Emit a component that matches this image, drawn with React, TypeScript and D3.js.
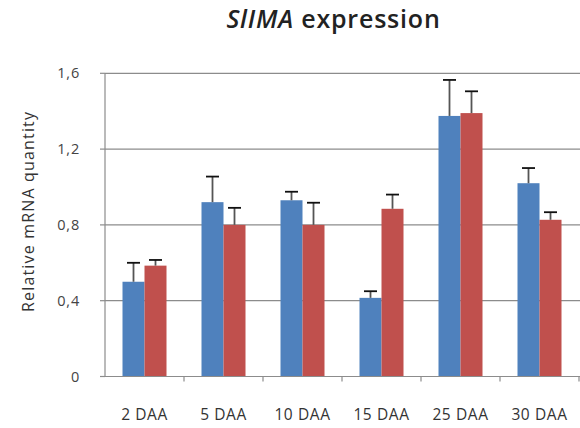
import React from "react";
import * as d3 from "d3";

const categories = ["2 DAA", "5 DAA", "10 DAA", "15 DAA", "25 DAA", "30 DAA"];
const blueValues = [0.5, 0.92, 0.93, 0.415, 1.375, 1.02];
const blueErrors = [0.1, 0.135, 0.045, 0.035, 0.19, 0.08];
const redValues = [0.585, 0.8, 0.8, 0.885, 1.39, 0.827];
const redErrors = [0.03, 0.09, 0.117, 0.075, 0.115, 0.04];
const yTicks = [0, 0.4, 0.8, 1.2, 1.6];
const yTickLabels = ["0", "0,4", "0,8", "1,2", "1,6"];

const W = 580, H = 428;
const left = 105, right = 579, top = 73.3, bottom = 376.5;
const FONT = "'Open Sans', sans-serif";

export default function App() {
  const x = d3.scaleBand<string>().domain(categories).range([left, right]).padding(0);
  const y = d3.scaleLinear().domain([0, 1.6]).range([bottom, top]);
  const bw = 22;
  const series = [
    { vals: blueValues, errs: blueErrors, color: "#4F81BD", off: -bw },
    { vals: redValues, errs: redErrors, color: "#C0504D", off: 0 },
  ];
  return (
    <svg width={W} height={H} style={{ position: "absolute", left: 0, top: 0, background: "#fff" }}>
      <rect width={W} height={H} fill="#fff" />
      <text x={333.5} y={27.5} textAnchor="middle" fontFamily={FONT} fontSize={25} fontWeight="600" fill="#222" letterSpacing={0.8}>
        <tspan fontStyle="italic">SlIMA</tspan> expression
      </text>
      {yTicks.map((t, i) => (
        <g key={t}>
          {t > 0 && <line x1={left} x2={right + 1} y1={y(t)} y2={y(t)} stroke="#8c8c8c" strokeWidth={1.2} />}
          <line x1={left - 5} x2={left} y1={y(t)} y2={y(t)} stroke="#8c8c8c" strokeWidth={1.2} />
          <text x={80} y={y(t) + 5} textAnchor="end" fontFamily={FONT} fontSize={14.5} fill="#444" letterSpacing={0.8}>
            {yTickLabels[i]}
          </text>
        </g>
      ))}
      <text transform={`translate(34,${212}) rotate(-90)`} textAnchor="middle" fontFamily={FONT} fontSize={16} fill="#333" textLength={200} lengthAdjust="spacing">
        Relative mRNA quantity
      </text>
      {series.map((s, si) =>
        categories.map((c, i) => {
          const cx = (x(c) as number) + x.bandwidth() / 2 + s.off;
          return (
            <rect key={`b${si}${i}`} x={cx} y={y(s.vals[i])} width={bw} height={bottom - y(s.vals[i])} fill={s.color} />
          );
        })
      )}
      {series.map((s, si) =>
        categories.map((c, i) => {
          const cx = (x(c) as number) + x.bandwidth() / 2 + s.off + bw / 2;
          const yt = y(s.vals[i] + s.errs[i]);
          return (
            <g key={`e${si}${i}`}>
              <line x1={cx} x2={cx} y1={y(s.vals[i])} y2={yt} stroke="#555" strokeWidth={1.8} />
              <line x1={cx - 6.5} x2={cx + 6.5} y1={yt} y2={yt} stroke="#111" strokeWidth={1.8} />
            </g>
          );
        })
      )}
      <line x1={left} x2={left} y1={top} y2={bottom} stroke="#8c8c8c" strokeWidth={1.2} />
      <line x1={left} x2={right + 1} y1={bottom} y2={bottom} stroke="#8c8c8c" strokeWidth={1.2} />
      {categories.map((c) => (
        <line key={`t${c}`} x1={(x(c) as number) + x.bandwidth()} x2={(x(c) as number) + x.bandwidth()} y1={bottom} y2={bottom + 5} stroke="#8c8c8c" strokeWidth={1.2} />
      ))}
      {categories.map((c) => (
        <text key={`l${c}`} x={(x(c) as number) + x.bandwidth() / 2} y={420} textAnchor="middle" fontFamily={FONT} fontSize={15.5} fill="#333" letterSpacing={0.6}>
          {c}
        </text>
      ))}
    </svg>
  );
}
